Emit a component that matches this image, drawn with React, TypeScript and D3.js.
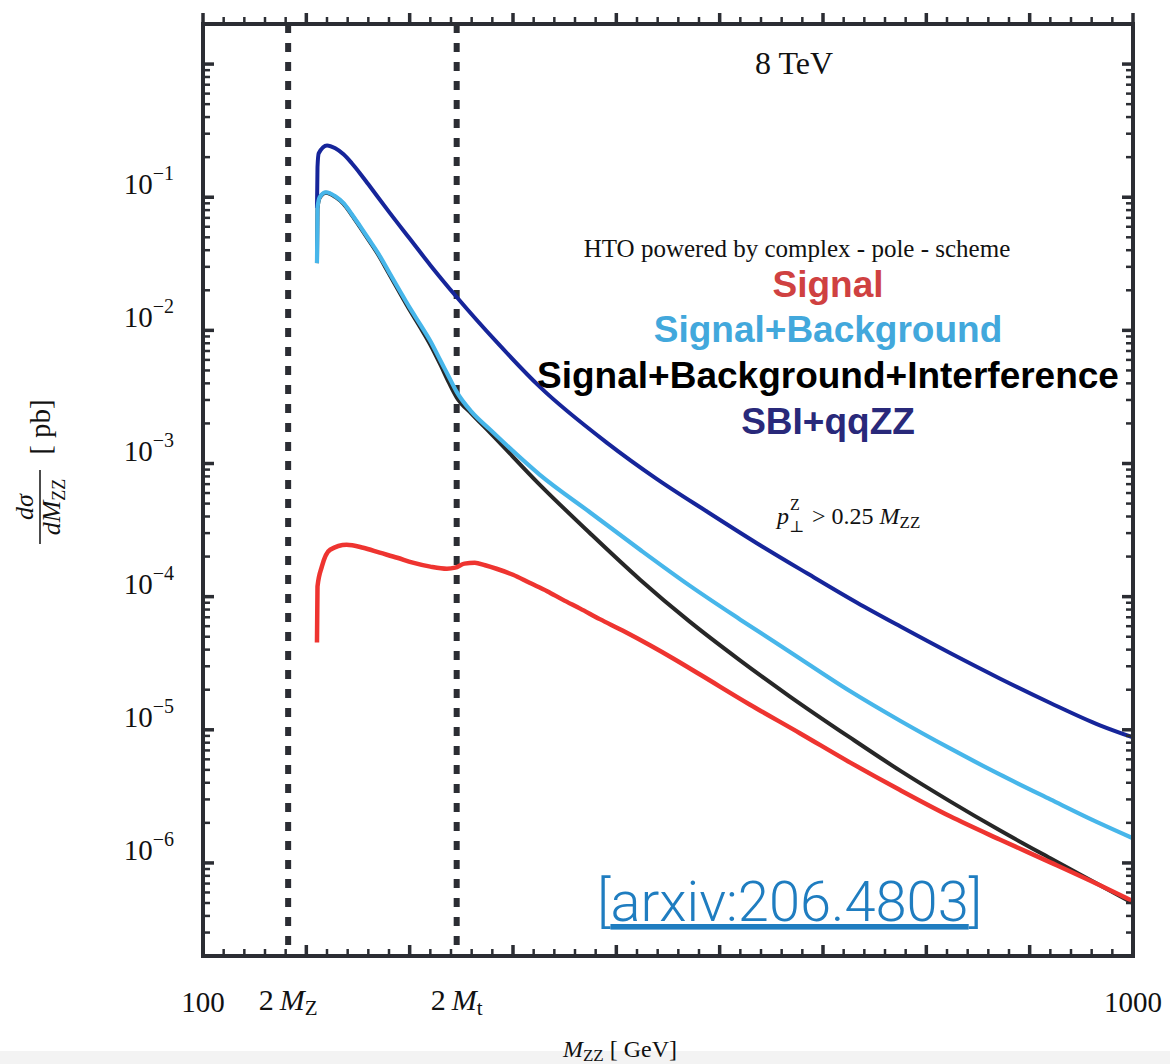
import React from "react";
import * as d3 from "d3";

// ---- data (M_ZZ in GeV, dσ/dM_ZZ in pb) ----
const massSignal = [210.3, 210.8, 215, 223, 239, 255, 271, 288, 303, 320, 336, 344, 353, 363, 373, 384, 400, 416, 433, 448, 465, 484, 506, 533, 555, 581, 629, 678, 726, 775, 823, 871, 920, 968, 1000];
const valuesSignal = [4.52e-5, 1.19e-4, 1.68e-4, 2.25e-4, 2.455e-4, 2.33e-4, 2.14e-4, 1.96e-4, 1.8e-4, 1.68e-4, 1.62e-4, 1.65e-4, 1.77e-4, 1.8e-4, 1.72e-4, 1.62e-4, 1.46e-4, 1.27e-4, 1.1e-4, 9.5e-5, 8.13e-5, 6.78e-5, 5.56e-5, 4.29e-5, 3.43e-5, 2.6e-5, 1.55e-5, 9.39e-6, 5.69e-6, 3.51e-6, 2.24e-6, 1.5e-6, 1.01e-6, 6.8e-7, 5.16e-7];

const massSB = [210.3, 210.8, 213, 219, 228, 236, 244, 252, 260, 270, 280, 290, 300, 310, 320, 330, 338, 345.5, 360, 378, 426, 475, 523, 571, 620, 668, 726, 775, 823, 871, 920, 968, 1000];
const valuesSB = [0.032, 0.083, 0.1, 0.109, 0.1017, 0.0902, 0.0746, 0.0606, 0.049, 0.0374, 0.0274, 0.0201, 0.0148, 0.01115, 0.00832, 0.00589, 0.00447, 0.00345, 0.00244, 0.00179, 0.000822, 0.000427, 0.000225, 0.000121, 6.72e-5, 3.84e-5, 1.954e-5, 1.164e-5, 7.24e-6, 4.62e-6, 3.0e-6, 1.98e-6, 1.53e-6];

const massSBI = [210.3, 210.8, 213, 219, 228, 236, 244, 252, 260, 270, 280, 290, 300, 310, 320, 330, 338, 345.5, 360, 378, 426, 475, 523, 571, 620, 668, 726, 775, 823, 871, 920, 968, 1000];
const valuesSBI = [0.032, 0.082, 0.099, 0.108, 0.1005, 0.089, 0.0735, 0.0595, 0.048, 0.0365, 0.0266, 0.0194, 0.0142, 0.0106, 0.0078, 0.00548, 0.00405, 0.00314, 0.00236, 0.0017, 0.000692, 0.000297, 0.0001341, 6.49e-5, 3.31e-5, 1.778e-5, 8.76e-6, 4.91e-6, 2.9e-6, 1.758e-6, 1.084e-6, 6.8e-7, 4.98e-7];

const massSBIqq = [210.3, 210.8, 212, 220, 228, 236, 244, 252, 260, 280, 300, 320, 345.5, 385, 426, 491, 539, 588, 636, 685, 733, 775, 823, 871, 920, 968, 1000];
const valuesSBIqq = [0.083, 0.168, 0.214, 0.245, 0.233, 0.21, 0.18, 0.151, 0.125, 0.0776, 0.0489, 0.0309, 0.0178, 0.00804, 0.00376, 0.00143, 0.000767, 0.000434, 0.000252, 0.000149, 9.0e-5, 5.96e-5, 3.77e-5, 2.43e-5, 1.59e-5, 1.08e-5, 8.76e-6];

const thresholdMasses = [182.4, 345.5]; // 2 M_Z, 2 M_t
const thresholdLabels = ["Z", "t"];
const xEndLabels = [100, 1000];
const yExponents = [-1, -2, -3, -4, -5, -6];
const legendLabels = ["Signal", "Signal+Background", "Signal+Background+Interference", "SBI+qqZZ"];

const COL = {
  axis: "#2b2d33",
  signal: "#ee3430",
  sb: "#47b6ea",
  sbi: "#272727",
  sbiqq: "#16259a",
};
const legendColors = ["#cf4141", "#42a8dc", "#000000", "#29297a"];

const SERIF = "'Liberation Serif', 'DejaVu Serif', serif";
const SANS = "'Liberation Sans', Arial, sans-serif";

export default function App() {
  const L = 203, R = 1133, T = 24, B = 956;
  const x = d3.scaleLinear().domain([100, 1000]).range([L, R]);
  const y = d3.scaleLog().domain([2e-7, 2]).range([B, T]);

  const mk = (ms: number[], vs: number[]) =>
    d3.line<number>().x((_, i) => x(ms[i])).y((v) => y(v)).curve(d3.curveMonotoneX)(vs) || "";

  const series = [
    { d: mk(massSBI, valuesSBI), c: COL.sbi, w: 4 },
    { d: mk(massSBIqq, valuesSBIqq), c: COL.sbiqq, w: 4 },
    { d: mk(massSB, valuesSB), c: COL.sb, w: 4.2 },
    { d: mk(massSignal, valuesSignal), c: COL.signal, w: 4.5 },
  ];

  // ticks
  const xTicks = d3.range(100, 1001, 20);
  const yTicks: { v: number; major: boolean }[] = [];
  for (let e = -7; e <= 0; e++) {
    for (let m = 1; m <= 9; m++) {
      const v = m * Math.pow(10, e);
      if (v >= 2e-7 && v <= 2) yTicks.push({ v, major: m === 1 });
    }
  }

  const legendBase = [297, 342, 388, 434];

  return (
    <svg width={1170} height={1064} style={{ position: "absolute", left: 0, top: 0, background: "#fff" }}>
      <rect x={0} y={0} width={1170} height={1064} fill="#ffffff" />
      <rect x={0} y={1051} width={1170} height={13} fill="#f3f3f3" />

      {/* threshold dashed lines */}
      {thresholdMasses.map((m, i) => (
        <line key={"th" + i} x1={x(m)} x2={x(m)} y1={T} y2={B} stroke={COL.axis} strokeWidth={6} strokeDasharray="9 10" />
      ))}

      {/* curves */}
      {series.map((s, i) => (
        <path key={"s" + i} d={s.d} fill="none" stroke={s.c} strokeWidth={s.w} strokeLinejoin="round" strokeLinecap="butt" />
      ))}

      {/* frame */}
      <rect x={L} y={T} width={R - L} height={B - T} fill="none" stroke={COL.axis} strokeWidth={4} />

      {/* x ticks: top outward, bottom inward */}
      {xTicks.map((t) => {
        const major = t % 100 === 0;
        const len = major ? 11 : 7;
        return (
          <g key={"xt" + t}>
            <line x1={x(t)} x2={x(t)} y1={T} y2={T - len} stroke={COL.axis} strokeWidth={major ? 3.5 : 2.5} />
            <line x1={x(t)} x2={x(t)} y1={B} y2={B - len} stroke={COL.axis} strokeWidth={major ? 3.5 : 2.5} />
          </g>
        );
      })}
      {/* y ticks: inward both sides */}
      {yTicks.map((t, i) => {
        const len = t.major ? 11 : 7;
        const yy = y(t.v);
        return (
          <g key={"yt" + i}>
            <line x1={L} x2={L + len} y1={yy} y2={yy} stroke={COL.axis} strokeWidth={t.major ? 3.5 : 2.5} />
            <line x1={R} x2={R - len} y1={yy} y2={yy} stroke={COL.axis} strokeWidth={t.major ? 3.5 : 2.5} />
          </g>
        );
      })}

      {/* y tick labels */}
      {yExponents.map((e) => (
        <text key={"yl" + e} x={174} y={y(Math.pow(10, e)) - 3} textAnchor="end" fontFamily={SERIF} fill="#111">
          <tspan fontSize={29}>10</tspan>
          <tspan fontSize={20} dy={-14}>{"\u2212" + Math.abs(e)}</tspan>
        </text>
      ))}

      {/* x tick labels */}
      {xEndLabels.map((v) => (
        <text key={"xl" + v} x={x(v)} y={1012} textAnchor="middle" fontFamily={SERIF} fontSize={29} fill="#111">
          {v}
        </text>
      ))}
      {thresholdMasses.map((m, i) => (
        <text key={"tl" + i} x={x(m)} y={1010} textAnchor="middle" fontFamily={SERIF} fontSize={30} fill="#111">
          <tspan>{"2\u2009"}</tspan>
          <tspan fontStyle="italic">M</tspan>
          <tspan fontSize={21} dy={5}>{thresholdLabels[i]}</tspan>
        </text>
      ))}

      {/* x axis title */}
      <text x={620} y={1057} textAnchor="middle" fontFamily={SERIF} fontSize={24} fill="#111">
        <tspan fontStyle="italic">M</tspan>
        <tspan fontSize={17} dy={4}>ZZ</tspan>
        <tspan dy={-4}>{" [ GeV]"}</tspan>
      </text>

      {/* y axis title */}
      <g transform="translate(50,470) rotate(-90)" fontFamily={SERIF} fill="#111">
        <text x={-37} y={-17} textAnchor="middle" fontSize={26} fontStyle="italic">dσ</text>
        <line x1={-74} x2={0} y1={-10} y2={-10} stroke="#111" strokeWidth={1.5} />
        <text x={-37} y={10} textAnchor="middle" fontSize={26}>
          <tspan fontStyle="italic">dM</tspan>
          <tspan fontSize={18} dy={5}>ZZ</tspan>
        </text>
        <text x={43} y={0} textAnchor="middle" fontSize={29}>[ pb]</text>
      </g>

      {/* annotations */}
      <text x={794} y={74} textAnchor="middle" fontFamily={SERIF} fontSize={32} fill="#111">8 TeV</text>
      <text x={797} y={257} textAnchor="middle" fontFamily={SERIF} fontSize={25} fill="#111">
        HTO powered by complex - pole - scheme
      </text>
      {legendLabels.map((t, i) => (
        <text key={"lg" + i} x={828} y={legendBase[i]} textAnchor="middle" fontFamily={SANS} fontWeight="bold" fontSize={37} fill={legendColors[i]}>
          {t}
        </text>
      ))}

      <g fontFamily={SERIF} fill="#111">
        <text x={777} y={524} fontSize={24} fontStyle="italic">p</text>
        <text x={790} y={510} fontSize={16}>Z</text>
        <text x={789} y={532} fontSize={16}>⊥</text>
        <text x={812} y={524} fontSize={24}>
          <tspan>{"> 0.25 "}</tspan>
          <tspan fontStyle="italic">M</tspan>
          <tspan fontSize={17} dy={4}>ZZ</tspan>
        </text>
      </g>

      <text x={597} y={921} fontFamily="Roboto, 'Liberation Sans', sans-serif" fontWeight={300} fontSize={56} fill="#1f7dc0">
        <tspan>[</tspan>
        <tspan style={{ textDecoration: "underline" }}>arxiv:206.4803</tspan>
        <tspan>]</tspan>
      </text>
    </svg>
  );
}
